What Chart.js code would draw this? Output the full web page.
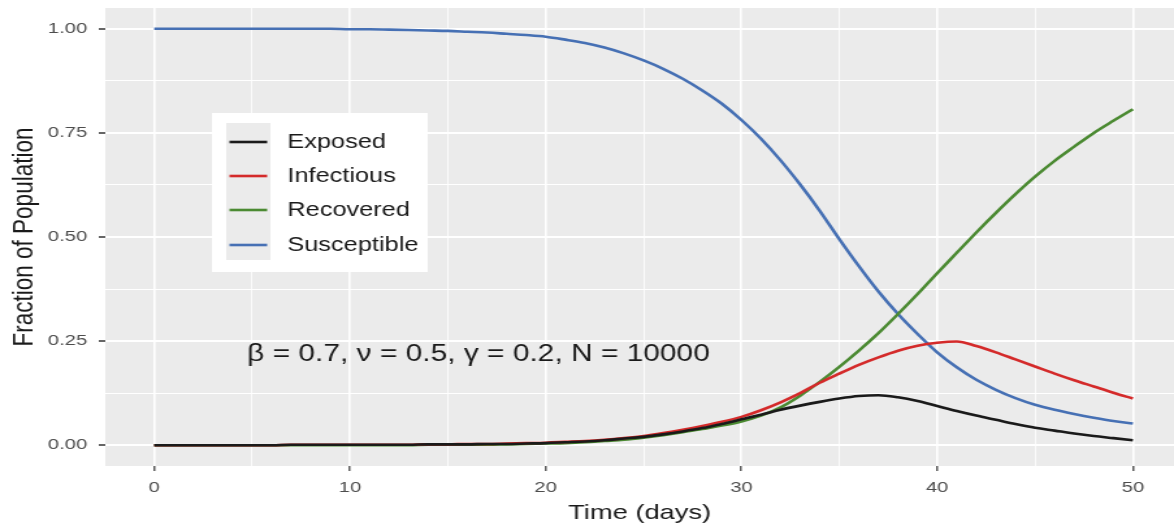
<!DOCTYPE html>
<html>
<head>
<meta charset="utf-8">
<script src="https://cdn.jsdelivr.net/npm/chart.js@4.4.1/dist/chart.umd.min.js"></script>
<style>
  html, body { margin: 0; padding: 0; background: #fff; overflow: hidden; }
  /* the source image is stretched sideways, so the chart is drawn narrow and widened */
  #wrap { width: 903px; height: 527px; transform: scaleX(1.30011); transform-origin: 0 0; }
</style>
</head>
<body>
<div id="wrap"><canvas id="chart" width="903" height="527"></canvas></div>
<script>
// Values, one point per day
const days = [];
for (let d = 0; d <= 50; d++) days.push(d);

const exposed = [
  0.000, 0.000, 0.000, 0.000, 0.000, 0.000, 0.000, 0.001, 0.001, 0.001,
  0.001, 0.001, 0.001, 0.001, 0.002, 0.002, 0.002, 0.003, 0.003, 0.004,
  0.005, 0.007, 0.009, 0.012, 0.016, 0.020, 0.026, 0.033, 0.041, 0.051,
  0.062, 0.073, 0.085, 0.095, 0.104, 0.112, 0.118, 0.120, 0.115, 0.106,
  0.094, 0.082, 0.071, 0.061, 0.051, 0.042, 0.035, 0.028, 0.022, 0.017,
  0.012
];
const infectious = [
  0.000, 0.000, 0.000, 0.000, 0.000, 0.000, 0.000, 0.001, 0.001, 0.001,
  0.001, 0.001, 0.001, 0.001, 0.002, 0.002, 0.003, 0.003, 0.004, 0.005,
  0.006, 0.008, 0.010, 0.013, 0.017, 0.022, 0.029, 0.037, 0.046, 0.056,
  0.068, 0.084, 0.103, 0.125, 0.150, 0.172, 0.193, 0.211, 0.227, 0.239,
  0.246, 0.249, 0.238, 0.223, 0.206, 0.189, 0.172, 0.156, 0.141, 0.126,
  0.112
];
const recovered = [
  0.000, 0.000, 0.000, 0.000, 0.000, 0.000, 0.000, 0.000, 0.000, 0.000,
  0.000, 0.000, 0.000, 0.000, 0.001, 0.001, 0.001, 0.001, 0.002, 0.003,
  0.004, 0.005, 0.007, 0.010, 0.013, 0.018, 0.024, 0.031, 0.039, 0.047,
  0.057, 0.071, 0.091, 0.119, 0.152, 0.188, 0.227, 0.269, 0.315, 0.363,
  0.413, 0.462, 0.511, 0.558, 0.603, 0.645, 0.683, 0.717, 0.750, 0.779,
  0.807
];
const susceptible = [
  1.000, 1.000, 1.000, 1.000, 1.000, 1.000, 1.000, 1.000, 1.000, 1.000,
  0.999, 0.999, 0.998, 0.997, 0.996, 0.995, 0.993, 0.991, 0.988, 0.985,
  0.981, 0.974, 0.966, 0.955, 0.941, 0.924, 0.904, 0.880, 0.852, 0.820,
  0.781, 0.736, 0.684, 0.626, 0.563, 0.495, 0.430, 0.369, 0.315, 0.267,
  0.223, 0.187, 0.157, 0.133, 0.113, 0.097, 0.085, 0.075, 0.066, 0.058,
  0.052
];

const seriesNames = ['Exposed', 'Infectious', 'Recovered', 'Susceptible'];
const seriesColors = ['#1a1a1a', '#d42a2a', '#4b8a32', '#4670b4'];
const xTicks = [0, 5, 10, 15, 20, 25, 30, 35, 40, 45, 50];
const yTicks = [0, 0.125, 0.25, 0.375, 0.5, 0.625, 0.75, 0.875, 1];
const noteText = 'β = 0.7, ν = 0.5, γ = 0.2, N = 10000';

const FONT = '"Liberation Sans", Arial, sans-serif';
const isMajorX = v => v % 10 === 0;
const isMajorY = v => Math.abs(v * 4 - Math.round(v * 4)) < 1e-9;

// grey panel behind the grid
const panelBg = {
    id: 'panelBg',
    beforeDraw(chart) {
        const { ctx, chartArea: a } = chart;
        ctx.save();
        ctx.fillStyle = '#ebebeb';
        ctx.fillRect(a.left, a.top, a.right - a.left, a.bottom - a.top);
        ctx.restore();
    }
};

// legend box inside the panel and the parameter note
const overlay = {
    id: 'overlay',
    afterDatasetsDraw(chart) {
        const ctx = chart.ctx;
        ctx.save();
        ctx.fillStyle = '#ffffff';
        ctx.fillRect(163, 113, 166, 159);
        ctx.fillStyle = '#ebebeb';
        ctx.fillRect(174, 123, 34, 137);
        const rows = [142, 176, 210, 245];
        ctx.font = '19.5px ' + FONT;
        ctx.textBaseline = 'middle';
        ctx.textAlign = 'left';
        seriesNames.forEach((name, i) => {
            ctx.strokeStyle = seriesColors[i];
            ctx.lineWidth = 2.6;
            ctx.beginPath();
            ctx.moveTo(176.5, rows[i]);
            ctx.lineTo(205.5, rows[i]);
            ctx.stroke();
            ctx.fillStyle = '#1a1a1a';
            ctx.fillText(name, 221, rows[i] + 1);
        });
        ctx.font = '23px ' + FONT;
        ctx.textAlign = 'center';
        ctx.fillStyle = '#1a1a1a';
        ctx.fillText(noteText, 368, 355);
        ctx.restore();
    }
};

new Chart(document.getElementById('chart'), {
    type: 'line',
    data: {
        datasets: [exposed, infectious, recovered, susceptible].map((vals, i) => ({
            label: seriesNames[i],
            data: days.map((d, j) => ({ x: d, y: vals[j] })),
            borderColor: seriesColors[i],
            backgroundColor: seriesColors[i],
            borderWidth: 2.6,
            pointRadius: 0,
            cubicInterpolationMode: 'monotone',
            fill: false
        }))
    },
    options: {
        responsive: false,
        devicePixelRatio: 1,
        animation: false,
        layout: { padding: { top: 8, right: 0, bottom: 0, left: 0 } },
        plugins: {
            legend: { display: false },
            tooltip: { enabled: false }
        },
        scales: {
            x: {
                type: 'linear',
                min: -2.5,
                max: 52.1,
                afterBuildTicks: s => { s.ticks = xTicks.map(v => ({ value: v })); },
                afterFit: s => { s.height = 61; s.paddingLeft = 0; s.paddingRight = 0; },
                border: { display: false },
                grid: {
                    color: '#ffffff',
                    lineWidth: c => isMajorX(c.tick.value) ? 1.6 : 0.8,
                    tickColor: c => isMajorX(c.tick.value) ? '#333333' : 'rgba(0,0,0,0)',
                    tickWidth: 1.2,
                    tickLength: 5
                },
                ticks: {
                    autoSkip: false,
                    maxRotation: 0,
                    padding: 7,
                    color: '#4d4d4d',
                    font: { family: FONT, size: 15.5 },
                    callback: v => isMajorX(v) ? String(v) : ''
                },
                title: {
                    display: true,
                    text: 'Time (days)',
                    color: '#1a1a1a',
                    font: { family: FONT, size: 21 },
                    padding: { top: 0, bottom: 1 }
                }
            },
            y: {
                type: 'linear',
                min: -0.05,
                max: 1.05,
                afterBuildTicks: s => { s.ticks = yTicks.map(v => ({ value: v })); },
                afterFit: s => { s.width = 81; s.paddingTop = 0; s.paddingBottom = 0; },
                border: { display: false },
                grid: {
                    color: '#ffffff',
                    lineWidth: c => isMajorY(c.tick.value) ? 2 : 1,
                    tickColor: c => isMajorY(c.tick.value) ? '#333333' : 'rgba(0,0,0,0)',
                    tickWidth: 1.5,
                    tickLength: 5
                },
                ticks: {
                    padding: 9,
                    color: '#4d4d4d',
                    font: { family: FONT, size: 15.5 },
                    callback: v => isMajorY(v) ? v.toFixed(2) : ''
                },
                title: {
                    display: true,
                    text: 'Fraction of Population',
                    color: '#1a1a1a',
                    font: { family: FONT, size: 22.5 },
                    padding: { top: 5, bottom: 0 }
                }
            }
        }
    },
    plugins: [panelBg, overlay]
});
</script>
</body>
</html>
